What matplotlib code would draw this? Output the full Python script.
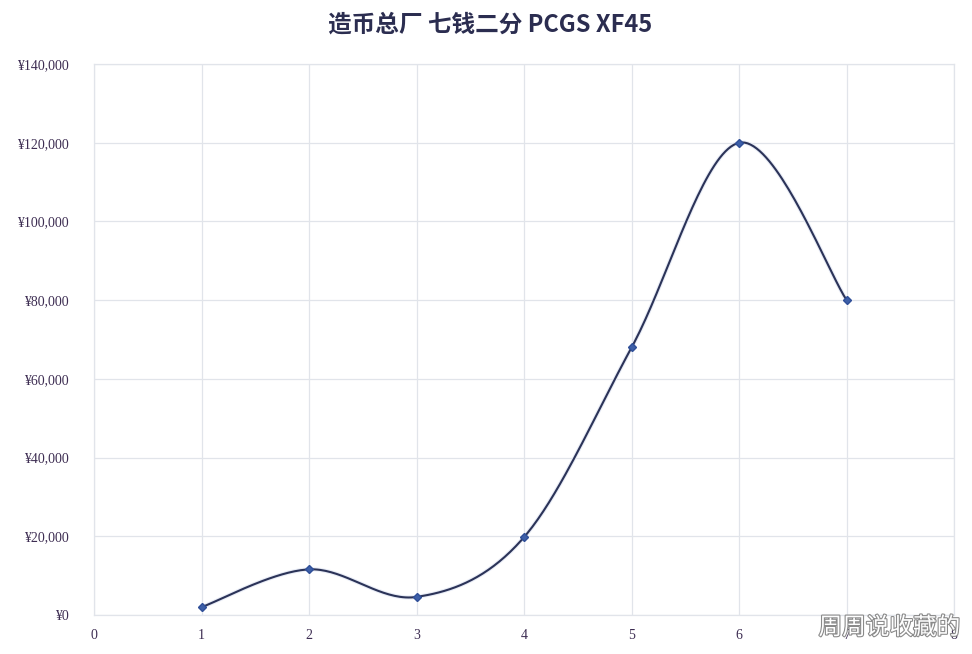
import numpy as np
import matplotlib
matplotlib.use("Agg")
import matplotlib.pyplot as plt
import matplotlib.patheffects as pe
from matplotlib.ticker import FuncFormatter

plt.rcParams['font.family'] = ['Noto Sans CJK SC', 'DejaVu Sans']

# data
years = [1, 2, 3, 4, 5, 6, 7]
prices = [2000, 11600, 4600, 19800, 68000, 120000, 80000]
title = "造币总厂 七钱二分 PCGS XF45"


def excel_smooth(xs, ys, n=40):
    # Catmull-Rom style bezier, like Excel's "smoothed line"
    px = [xs[0]] + list(xs) + [xs[-1]]
    py = [ys[0]] + list(ys) + [ys[-1]]
    out_x, out_y = [], []
    t = np.linspace(0, 1, n)
    for i in range(1, len(px) - 2):
        p0 = np.array([px[i], py[i]], float)
        p3 = np.array([px[i + 1], py[i + 1]], float)
        c1 = p0 + (np.array([px[i + 1], py[i + 1]]) - np.array([px[i - 1], py[i - 1]])) / 6
        c2 = p3 - (np.array([px[i + 2], py[i + 2]]) - np.array([px[i], py[i]])) / 6
        b = ((1 - t) ** 3)[:, None] * p0 + (3 * (1 - t) ** 2 * t)[:, None] * c1 \
            + (3 * (1 - t) * t ** 2)[:, None] * c2 + (t ** 3)[:, None] * p3
        out_x.extend(b[:, 0])
        out_y.extend(b[:, 1])
    return out_x, out_y


fig = plt.figure(figsize=(9.72, 6.54), dpi=100)
ax = fig.add_axes([0.0967, 0.0596, 0.885, 0.8425])

sx, sy = excel_smooth(years, prices)
ax.plot(sx, sy, color='#2b3358', linewidth=1.5, zorder=3,
        path_effects=[pe.Stroke(linewidth=3.0, foreground='#e8ecf6'), pe.Normal()])
ax.plot(years, prices, linestyle='none', marker='D', markersize=4.5,
        color='#3d5fa8', markeredgecolor='#2f4f98', zorder=4)

ax.set_xlim(0, 8)
ax.set_ylim(0, 140000)
ax.set_xticks(range(0, 9))
ax.set_yticks(range(0, 140001, 20000))
ax.yaxis.set_major_formatter(FuncFormatter(lambda v, p: "¥{:,.0f}".format(v)))
ax.grid(True, color='#e1e4ea', linewidth=0.9)
ax.set_axisbelow(True)
for s in ax.spines.values():
    s.set_color('#e1e4ea')
    s.set_linewidth(0.9)
ax.tick_params(length=0, labelsize=10, labelcolor='#3d2d52')
ax.tick_params(axis='y', pad=18)
ax.tick_params(axis='x', pad=10)
for lab in ax.get_yticklabels() + ax.get_xticklabels():
    lab.set_family(['Liberation Serif', 'DejaVu Serif'])

fig.text(0.504, 0.962, title, ha='center', va='center', fontsize=17,
         fontweight='bold', color='#2b2d50')

# watermark
fig.text(0.988, 0.04, "周周说收藏的", ha='right', va='center', fontsize=17,
         color='white',
         path_effects=[pe.withStroke(linewidth=1.6, foreground='#8a8a8a')])

fig.savefig("out.png", dpi=100, facecolor='white')
